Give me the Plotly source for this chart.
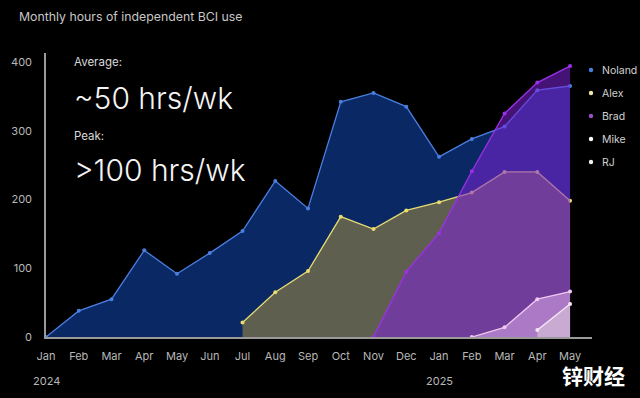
import plotly.graph_objects as go

# ---- data ----
month_labels = ["Jan", "Feb", "Mar", "Apr", "May", "Jun", "Jul", "Aug", "Sep", "Oct",
                "Nov", "Dec", "Jan", "Feb", "Mar", "Apr", "May"]
year_labels = ["2024", "2025"]
year_positions = [0, 12]

noland = [0, 38, 55, 126, 92, 122, 154, 227, 187, 342, 355, 335, 262, 288, 306, 359, 365]
alex = [None, None, None, None, None, None, 21, 65, 96, 175, 157, 184, 196, 210, 240, 240, 198]
brad = [None] * 10 + [0, 95, 151, 241, 325, 370, 394]
mike = [None] * 13 + [0, 14, 55, 66]
rj = [None] * 15 + [10, 48]

series_names = ["Noland", "Alex", "Brad", "Mike", "RJ"]
series_values = [noland, alex, brad, mike, rj]
line_colors = ["#4a7fe0", "#e8dc70", "#9b30e8", "#f0c8f0", "#f4e4f4"]
fill_colors = ["rgba(10,40,100,1)", "rgba(180,150,60,0.5)", "rgba(125,35,215,0.55)",
               "rgba(230,180,240,0.5)", "rgba(230,220,225,0.5)"]
legend_colors = ["#4a7fe0", "#f0e6a8", "#9a50c8", "#ffffff", "#f0f0f0"]

fig = go.Figure()
for name, vals, line_c, fill_c in zip(series_names, series_values, line_colors, fill_colors):
    xs = [i for i, v in enumerate(vals) if v is not None]
    ys = [v for v in vals if v is not None]
    fig.add_trace(go.Scatter(
        x=xs, y=ys, mode="lines+markers", fill="tozeroy", fillcolor=fill_c, name=name,
        line=dict(color=line_c, width=1.3), marker=dict(color=line_c, size=4),
        showlegend=False, hoverinfo="skip", cliponaxis=False))

L, R, T, B = 46, 0, 53, 61
AXIS_END = 592
PW, PH = 640 - L - R, 398 - T - B

def px(x):
    return (x - L) / PW

def py(y):
    return (398 - B - y) / PH

annotations = [
    dict(text="Monthly hours of independent BCI use", x=px(17), y=py(17), xanchor="left",
         yanchor="middle", font=dict(size=12.3, color="#c8c8c8")),
    dict(text="Average:", x=px(72), y=py(62), xanchor="left", yanchor="middle",
         font=dict(size=11.5, color="#d8d8d8")),
    dict(text="~50 hrs/wk", x=px(72), y=py(98), xanchor="left", yanchor="middle",
         font=dict(size=30, color="#f4f4f4", weight=300)),
    dict(text="Peak:", x=px(72), y=py(136), xanchor="left", yanchor="middle",
         font=dict(size=11.5, color="#d8d8d8")),
    dict(text=">100 hrs/wk", x=px(72), y=py(170), xanchor="left", yanchor="middle",
         font=dict(size=30, color="#f4f4f4", weight=300)),
    dict(text="锌财经", x=px(593), y=py(375), xanchor="center", yanchor="middle",
         font=dict(size=21, color="#ffffff", family="Noto Sans CJK SC", weight="bold")),
]
for lab, pos in zip(year_labels, year_positions):
    annotations.append(dict(text=lab, x=pos, xref="x", y=py(381), yref="paper",
                            xanchor="center", yanchor="middle",
                            font=dict(size=11, color="#b8b8b8")))

# manual legend (dot + label)
shapes = []
for i, (name, col) in enumerate(zip(series_names, legend_colors)):
    ly = 70 + 23 * i
    shapes.append(dict(type="circle", xref="paper", yref="paper",
                       xsizemode="pixel", ysizemode="pixel",
                       xanchor=px(591), yanchor=py(ly), x0=-2.2, x1=2.2, y0=-2.2, y1=2.2,
                       fillcolor=col, line=dict(width=0)))
    annotations.append(dict(text=name, x=px(600), y=py(ly), xanchor="left", yanchor="middle",
                            font=dict(size=10.5, color="#d0d0d0")))

for a in annotations:
    a.setdefault("xref", "paper")
    a.setdefault("yref", "paper")
    a["showarrow"] = False

fig.update_layout(
    width=640, height=398,
    margin=dict(l=L, r=R, t=T, b=B),
    paper_bgcolor="#000000", plot_bgcolor="#000000",
    font=dict(family="Inter", color="#b8b8b8", size=11),
    xaxis=dict(domain=[0, px(AXIS_END)], range=[0, 16.67],
               tickvals=list(range(len(month_labels))), ticktext=month_labels,
               showgrid=False, zeroline=False, showline=True, linecolor="#9a9a9a", linewidth=1.5,
               ticks="outside", ticklen=8, tickcolor="rgba(0,0,0,0)",
               tickfont=dict(size=11, color="#b8b8b8")),
    yaxis=dict(range=[0, 413], tickvals=[0, 100, 200, 300, 400],
               showgrid=False, zeroline=False, showline=True, linecolor="#9a9a9a", linewidth=1.5,
               ticks="outside", ticklen=10, tickcolor="rgba(0,0,0,0)",
               tickfont=dict(size=11, color="#b8b8b8")),
    annotations=annotations,
    shapes=shapes,
    showlegend=False,
)

fig.write_html("out.html", config={"displayModeBar": False},
               post_script="document.body.style.margin='0px';document.body.style.padding='0px';document.body.style.background='#000';")
